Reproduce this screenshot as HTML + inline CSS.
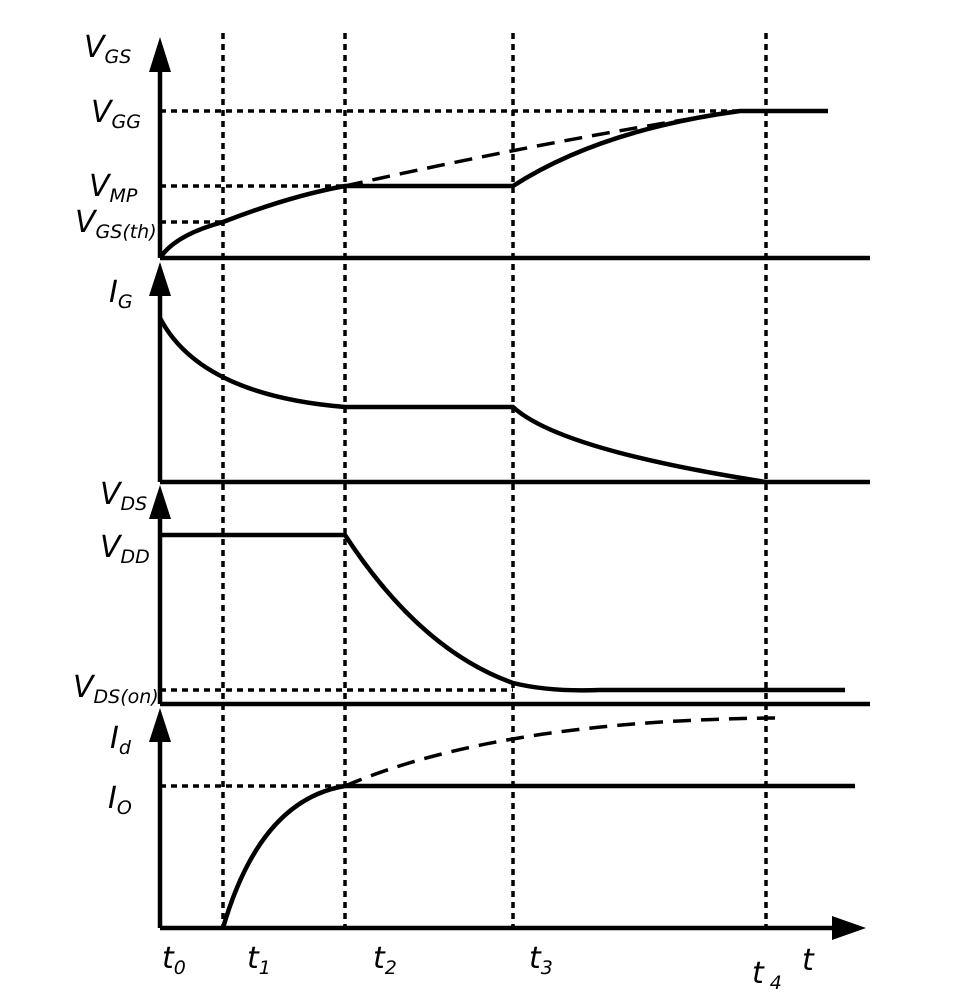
<!DOCTYPE html>
<html><head><style>
body{margin:0;background:#fff}
text{font-family:"DejaVu Sans","Liberation Sans",sans-serif;font-style:italic;fill:#000}
.m{font-size:30px}.s{font-size:19px}
</style></head><body>
<svg width="953" height="998" viewBox="0 0 953 998" xmlns="http://www.w3.org/2000/svg">
<g stroke="#000" stroke-width="3.5" stroke-dasharray="6,5" fill="none">
<line x1="223" y1="33" x2="223" y2="928"/>
<line x1="345" y1="33" x2="345" y2="928"/>
<line x1="513" y1="33" x2="513" y2="928"/>
<line x1="766" y1="33" x2="766" y2="928"/>
<line x1="160" y1="111" x2="740" y2="111"/>
<line x1="160" y1="186" x2="345" y2="186"/>
<line x1="160" y1="222" x2="223" y2="222"/>
<line x1="160" y1="690" x2="513" y2="690"/>
<line x1="160" y1="786" x2="345" y2="786"/>
</g>
<g stroke="#000" stroke-width="4.5" fill="none">
<line x1="160" y1="60" x2="160" y2="258"/>
<line x1="160" y1="258" x2="870" y2="258"/>
<line x1="160" y1="285" x2="160" y2="482"/>
<line x1="160" y1="482" x2="870" y2="482"/>
<line x1="160" y1="508" x2="160" y2="704"/>
<line x1="160" y1="704" x2="870" y2="704"/>
<line x1="160" y1="732" x2="160" y2="928"/>
<line x1="160" y1="928" x2="840" y2="928"/>
<path d="M160 258 Q175 235 223 222 Q290 196 345 186 L513 186 Q600 130 740 111 L828 111"/>
<path d="M160 318 Q200 395 345 407 L513 407 Q560 450 766 482"/>
<path d="M160 535 L345 535 Q420 650 513 683 Q550 692 600 690 L845 690"/>
<path d="M223 928 Q260 800 345 786 L855 786"/>
<path stroke-width="3.5" stroke-dasharray="18,10" d="M345 186 Q550 140 740 111"/>
<path stroke-width="3.5" stroke-dasharray="18,10" d="M345 786 Q500 720 778 718"/>
</g>
<g fill="#000">
<polygon points="160,37 149,72 171,72"/>
<polygon points="160,262 149,296 171,296"/>
<polygon points="160,485 149,519 171,519"/>
<polygon points="160,708 149,742 171,742"/>
<polygon points="866,928 832,916 832,940"/>
</g>
<text x="84" y="57" class="m">V<tspan class="s" dy="6">GS</tspan></text>
<text x="91" y="122" class="m">V<tspan class="s" dy="6">GG</tspan></text>
<text x="89" y="196" class="m">V<tspan class="s" dy="6">MP</tspan></text>
<text x="75" y="232" class="m">V<tspan class="s" dy="6">GS(th)</tspan></text>
<text x="109" y="302" class="m">I<tspan class="s" dy="6">G</tspan></text>
<text x="100" y="504" class="m">V<tspan class="s" dy="6">DS</tspan></text>
<text x="100" y="557" class="m">V<tspan class="s" dy="6">DD</tspan></text>
<text x="73" y="697" class="m">V<tspan class="s" dy="6">DS(on)</tspan></text>
<text x="110" y="748" class="m">I<tspan class="s" dy="6">d</tspan></text>
<text x="108" y="808" class="m">I<tspan class="s" dy="6">O</tspan></text>
<text x="162" y="968" class="m">t<tspan class="s" dy="6">0</tspan></text>
<text x="247" y="968" class="m">t<tspan class="s" dy="6">1</tspan></text>
<text x="373" y="968" class="m">t<tspan class="s" dy="6">2</tspan></text>
<text x="529" y="968" class="m">t<tspan class="s" dy="6">3</tspan></text>
<text x="752" y="983" class="m">t<tspan class="s" dy="6"> 4</tspan></text>
<text x="802" y="970" class="m">t</text>
</svg>
</body></html>
